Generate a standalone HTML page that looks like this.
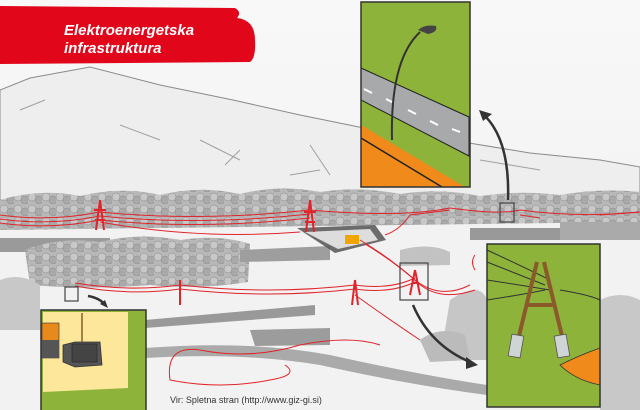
<!DOCTYPE html>
<html><head><meta charset="utf-8"><style>
html,body{margin:0;padding:0;width:640px;height:410px;overflow:hidden;background:#f2f2f2}
svg{display:block}
</style></head><body>
<svg width="640" height="410" viewBox="0 0 640 410" xmlns="http://www.w3.org/2000/svg">
<defs>
<linearGradient id="sky" x1="0" y1="0" x2="0" y2="1"><stop offset="0" stop-color="#f8f8f8"/><stop offset="1" stop-color="#efefef"/></linearGradient>
<pattern id="trees" width="14" height="12" patternUnits="userSpaceOnUse">
<rect width="14" height="12" fill="#b8b8b8"/>
<circle cx="4" cy="5" r="4" fill="#c8c8c8" stroke="#888" stroke-width="0.5"/>
<circle cx="11" cy="8" r="4" fill="#a9a9a9" stroke="#888" stroke-width="0.5"/>
</pattern>
</defs>
<rect width="640" height="410" fill="url(#sky)"/>
<!-- mountain -->
<path d="M0,90 L30,78 L90,67 L160,85 L233,100 L300,115 L359,127 L469,143 L530,153 L600,160 L640,167 L640,200 L0,200 Z" fill="#eeeeee" stroke="#8a8a8a" stroke-width="1"/>
<path d="M20,110 L45,100 M120,125 L160,140 M200,140 L240,160 M240,150 L225,165 M310,145 L330,175 M290,175 L320,170 M480,160 L540,170" stroke="#a0a0a0" stroke-width="1" fill="none"/>
<!-- tree band 1 -->
<path d="M0,200 Q40,188 80,196 Q120,186 160,195 Q200,185 240,194 Q280,184 320,192 Q360,186 400,194 Q440,188 480,196 Q520,190 560,195 Q600,188 640,192 L640,225 L0,232 Z" fill="url(#trees)"/>
<!-- fields -->
<path d="M0,230 L640,222 L640,410 L0,410 Z" fill="#f2f2f2"/>
<rect x="0" y="238" width="110" height="14" fill="#9a9a9a"/>
<rect x="470" y="228" width="120" height="12" fill="#999"/>
<rect x="560" y="222" width="80" height="18" fill="#aaa"/>
<!-- tree band 2 -->
<path d="M25,250 Q60,236 100,242 Q140,232 180,240 Q220,234 250,244 L248,282 Q200,290 150,285 Q90,290 30,285 Z" fill="url(#trees)"/>
<path d="M240,250 L330,246 L330,260 L240,262 Z" fill="#9e9e9e"/>
<path d="M400,250 Q430,242 450,252 L450,265 L400,266Z" fill="#c2c2c2"/>
<path d="M0,280 Q20,272 40,285 L40,330 L0,330 Z" fill="#c8c8c8"/>
<path d="M450,300 Q480,280 487,300 L487,360 L440,360 Z" fill="#c6c6c6"/>
<path d="M600,300 Q620,290 640,300 L640,410 L600,410 Z" fill="#c8c8c8"/>
<!-- roads -->
<path d="M145,320 L315,305 L315,315 L145,328 Z" fill="#999"/>
<path d="M145,348 Q250,340 330,355 Q420,375 487,385 L487,395 Q410,385 320,365 Q240,352 145,358 Z" fill="#aaa"/>
<path d="M250,330 L330,328 L330,345 L255,346Z" fill="#9c9c9c"/>
<path d="M420,340 Q440,325 465,335 L470,360 L430,362Z" fill="#bbb"/>
<!-- substation -->
<path d="M297,228 L375,225 L386,240 L335,253 Z" fill="#555" opacity="0.85"/>
<path d="M305,232 L370,229 L378,240 L338,249 Z" fill="#ddd"/>
<rect x="345" y="235" width="14" height="9" fill="#f0a500"/>
<!-- red power lines -->
<g stroke="#e0242b" fill="none" stroke-width="1">
<path d="M0,215 Q50,222 100,212 Q200,222 310,210 Q400,218 450,208 Q500,215 520,210 Q580,218 640,212"/>
<path d="M0,219 Q50,226 100,216 Q200,226 310,214"/>
<path d="M0,223 Q50,230 100,220 Q200,230 310,218"/>
<path d="M100,222 Q200,240 300,232"/>
<path d="M385,235 Q400,230 410,215 L450,210"/>
<path d="M75,283 Q130,292 180,285 Q270,295 355,285 Q390,290 415,278"/>
<path d="M75,286 Q130,296 180,289 Q270,299 355,289 Q390,294 415,282"/>
<path d="M360,240 Q390,258 415,280 Q440,300 470,285"/>
<path d="M365,244 Q395,262 418,283 Q440,302 475,290"/>
<path d="M355,295 Q390,320 420,340"/>
<path d="M170,380 Q165,345 200,350 Q250,360 300,345 Q350,335 380,345"/>
<path d="M170,380 Q220,390 270,380 Q300,375 285,365"/>
<path d="M520,215 L540,218 M600,215 L640,212"/>
<path d="M475,255 Q470,262 475,270"/>
</g>
<g stroke="#e0242b" stroke-width="2" fill="none">
<path d="M100,200 L96,230 M100,200 L104,230 M94,210 L106,210 M95,220 L105,220"/>
<path d="M310,200 L306,232 M310,200 L314,232 M304,212 L316,212 M305,222 L315,222"/>
<path d="M180,280 L180,305"/>
<path d="M355,280 L352,305 M355,280 L358,305"/>
<path d="M415,270 L410,295 M415,270 L420,295 M412,283 L418,283"/>
</g>
<!-- small boxes -->
<rect x="400" y="263" width="28" height="37" fill="none" stroke="#444" stroke-width="1.2"/>
<rect x="500" y="203" width="14" height="19" fill="none" stroke="#444" stroke-width="1.2"/>
<rect x="65" y="287" width="13" height="14" fill="none" stroke="#444" stroke-width="1.2"/>
<!-- arrows -->
<g fill="none" stroke="#333" stroke-width="2.5">
<path d="M508,200 Q510,140 484,115"/>
<path d="M413,305 Q430,345 470,362"/>
<path d="M88,296 Q100,298 105,305"/>
</g>
<polygon points="479,110 492,114 483,121" fill="#333"/>
<polygon points="478,365 466,357 466,369" fill="#333"/>
<polygon points="108,308 100,304 105,300" fill="#333"/>
<!-- red banner -->
<path d="M0,6 L235,8 Q242,12 237,18 Q255,20 255,40 Q256,58 250,62 L0,64 Z" fill="#e2061b"/>
<text x="64" y="35" font-family="Liberation Sans, sans-serif" font-size="15" fill="#fff" font-weight="bold" font-style="italic">Elektroenergetska</text>
<text x="64" y="53" font-family="Liberation Sans, sans-serif" font-size="15" fill="#fff" font-weight="bold" font-style="italic">infrastruktura</text>
<!-- top inset -->
<g>
<rect x="361" y="2" width="109" height="185" fill="#8db33a"/>
<path d="M361,68 L469,117 L469,156 L361,100 Z" fill="#a7a9ab" stroke="#222" stroke-width="1"/>
<path d="M364,89 L372,93 M386,99 L394,103 M408,110 L416,114 M430,121 L438,125 M452,129 L460,132" stroke="#fff" stroke-width="2"/>
<path d="M361,125 L465,187 L361,187Z" fill="#f08a1a"/>
<path d="M361,138 L442,187" stroke="#222" stroke-width="1.5"/>
<path d="M392,140 Q390,60 420,32" fill="none" stroke="#333" stroke-width="2"/>
<path d="M418,30 Q425,24 436,26 Q438,32 428,34 Z" fill="#444"/>
<rect x="361" y="2" width="109" height="185" fill="none" stroke="#333" stroke-width="1.5"/>
</g>
<!-- bottom right inset -->
<g>
<rect x="487" y="244" width="113" height="163" fill="#8db33a"/>
<path d="M487,250 Q530,270 550,280 M487,262 Q520,275 545,285 M487,280 Q520,285 550,290 M487,300 Q520,295 545,290 M560,290 Q590,295 600,300" stroke="#333" fill="none" stroke-width="1"/>
<path d="M537,262 L518,340 M544,262 L563,340 M526,305 L555,305" stroke="#8b5a2b" stroke-width="4" fill="none"/>
<rect x="510" y="335" width="12" height="22" fill="#cfd5d5" stroke="#555" stroke-width="0.8" transform="rotate(10 516 346)"/>
<rect x="556" y="335" width="12" height="22" fill="#cfd5d5" stroke="#555" stroke-width="0.8" transform="rotate(-10 562 346)"/>
<path d="M600,348 Q580,355 560,365 Q575,380 600,385 Z" fill="#f08a1a" stroke="#333" stroke-width="0.8"/>
<rect x="487" y="244" width="113" height="163" fill="none" stroke="#333" stroke-width="1.5"/>
</g>
<!-- bottom left inset -->
<g>
<rect x="41" y="310" width="105" height="100" fill="#8db33a"/>
<path d="M43,312 L128,312 L128,388 L43,392 Z" fill="#fde79a"/>
<rect x="42" y="323" width="17" height="35" fill="#e8891c" stroke="#333" stroke-width="0.6"/>
<rect x="42" y="340" width="17" height="18" fill="#555"/>
<path d="M63,345 L75,342 L100,342 L102,365 L75,367 L63,362 Z" fill="#555" stroke="#333" stroke-width="0.8"/>
<rect x="72" y="344" width="25" height="18" fill="#444" stroke="#222" stroke-width="0.6"/>
<line x1="82" y1="313" x2="82" y2="342" stroke="#8b5a2b" stroke-width="1.5"/>
<rect x="41" y="310" width="105" height="102" fill="none" stroke="#333" stroke-width="1.5"/>
</g>
<text x="170" y="403" font-family="Liberation Sans, sans-serif" font-size="9" fill="#333">Vir: Spletna stran  (http://www.giz-gi.si)</text>
</svg>
</body></html>
